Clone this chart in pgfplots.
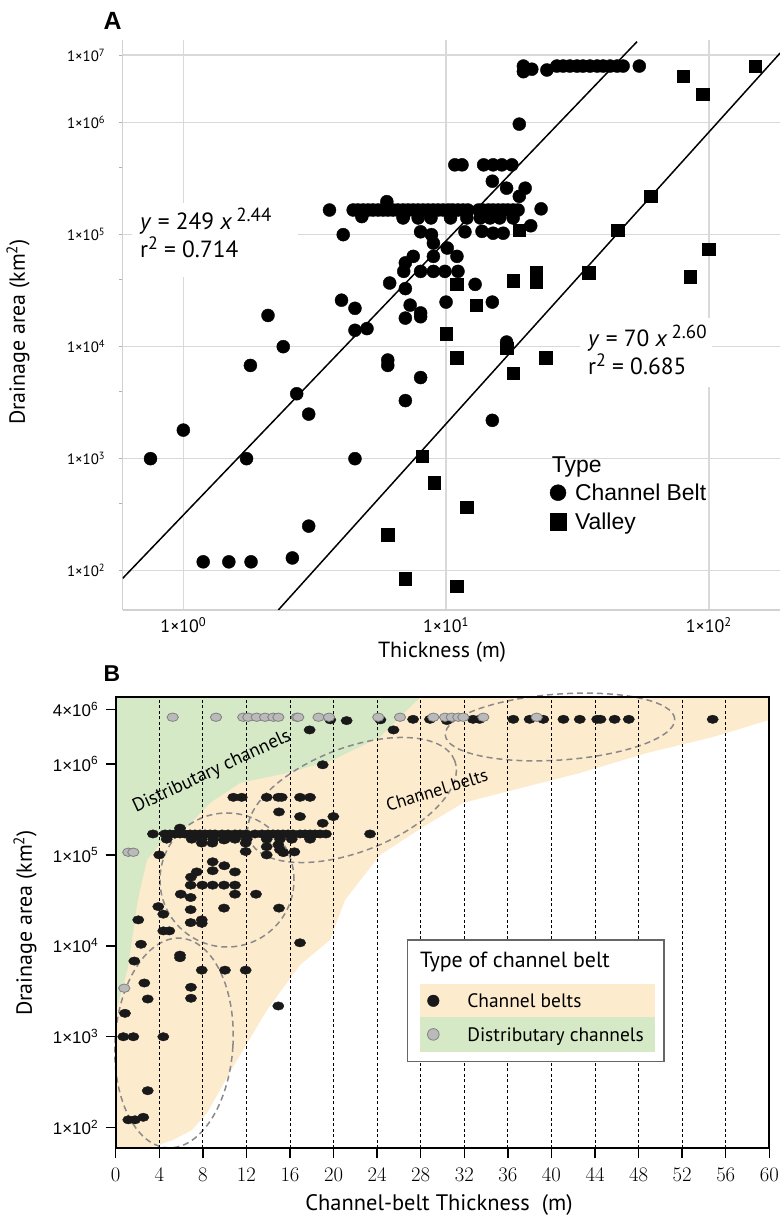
\documentclass[border=0pt]{standalone}
\usepackage{fontspec}
\setmainfont{PT Sans}
\newfontfamily\arial{Liberation Sans}
\newfontfamily\narrow{Liberation Sans}[FakeStretch=0.62]
\usepackage{pgfplots}
\pgfplotsset{compat=1.18}
\definecolor{peach}{RGB}{253,235,206}
\definecolor{lgreen}{RGB}{213,233,198}
\definecolor{ellgray}{RGB}{138,138,138}
\newcommand\fs[1]{\fontsize{#1}{#1}\selectfont}
\newcommand\tp[1]{1×10\textsuperscript{#1}}
\begin{document}
\begin{tikzpicture}[x=1bp,y=1bp]
\useasboundingbox (0,0) rectangle (780,1218);

% ---------------- Panel A ----------------
\begin{axis}[
 at={(122.7bp,608bp)}, anchor=south west, scale only axis,
 width=657.3bp, height=570bp,
 xmode=log, ymode=log,
 xmin=0.5877, xmax=186.7, ymin=44.6, ymax=5.47e6,
 axis x line*=bottom, axis y line*=left,
 axis line style={draw=black!18, line width=1.5bp},
 xtick={1,10,100}, xticklabels={\tp{0},\tp{1},\tp{2}},
 ytick={100,1000,10000,100000,1000000,4000000},
 yticklabels={\tp{2},\tp{3},\tp{4},\tp{5},\tp{6},\tp{7}},
 minor xtick={}, minor ytick={400,4000,40000,400000},
 xmajorgrids, ymajorgrids,
 major grid style={draw=black!15, line width=1.5bp},
 xtick style={draw=none},
 ytick style={draw=black!30, line width=1bp},
 minor tick style={draw=black!30, line width=1bp},
 major tick length=4bp, minor tick length=4bp, tick align=outside,
 xticklabel style={font=\fs{18}},
 yticklabel style={font=\fs{15}, xshift=-10bp},
 legend image code/.code={\draw[#1, mark size=8bp] plot coordinates {(8bp,0bp)}; \path[draw=none,fill=none] (0bp,0bp) -- (25bp,0bp);},
 legend style={at={(0.6501,0.2312)}, anchor=north west, draw=none, fill=none,
   inner sep=0pt, outer sep=0pt, row sep=0pt, column sep=0pt,
   nodes={inner sep=0pt, minimum height=29bp, text height=16.5bp, text depth=0bp, font=\arial\fs{23}}},
 legend cell align=left,
]
\addplot[only marks, mark=*, mark size=6.5bp, black] coordinates {
(0.75,1000) (1.0,1800) (1.74,1000) (1.8,6800) (2.4,1.0e4) (2.1,1.9e4) (2.7,3800) (3.0,2500) (3.0,250) (2.6,130)
(1.19,120) (1.49,120) (1.81,120) (4.5,1000) (6.0,7600) (6.0,6800) (8.0,5300) (7.0,3300)
(4.5,2.2e4) (4.0,2.6e4) (4.5,1.4e4) (5.0,1.45e4) (7.0,1.8e4) (8.0,1.85e4) (8.0,2.0e4) (7.3,2.35e4)
(10,2.5e4) (15,2.5e4) (17,1.1e4) (15,2200) (3.6,1.66e5) (4.06,1.0e5) (6.1,3.7e4) (7.0,3.3e4) (12.9,3.6e4)
(6.9,4.7e4) (8.0,4.7e4) (8.95,4.7e4) (9.9,4.7e4) (11.1,4.7e4) (7.0,5.6e4) (7.5,6.4e4) (8.95,6.4e4) (11.0,6.4e4)
(10.1,7.6e4) (8.0,1.06e5) (8.8,1.0e5) (8.95,8.4e4) (11.8,1.06e5) (13.7,1.07e5) (15.1,1.03e5) (16.5,1.03e5)
(21,1.2e5) (23,1.7e5) (19,2.2e5) (17,2.6e5) (20,2.6e5) (15,3.0e5)
(10.8,4.2e5) (11.5,4.2e5) (13.9,4.2e5) (15.1,4.2e5) (16.3,4.2e5) (17.8,4.2e5) (19,9.7e5)
(19.7,3.2e6) (19.7,2.85e6) (21.2,3.0e6) (24.2,2.95e6) (26.4,3.2e6) (27.9,3.2e6) (29.6,3.2e6) (31.5,3.2e6)
(33.2,3.2e6) (35.3,3.2e6) (37.6,3.2e6) (39.6,3.2e6) (42.1,3.2e6) (44.8,3.2e6) (47.2,3.2e6) (54.4,3.2e6)
(4.43,1.66e5) (4.62,1.66e5) (4.83,1.66e5) (5.05,1.66e5) (5.27,1.66e5) (5.51,1.66e5) (5.76,1.66e5) (6.01,1.66e5)
(6.28,1.66e5) (6.56,1.66e5) (6.86,1.66e5) (7.17,1.66e5) (7.49,1.66e5) (7.83,1.66e5) (8.18,1.66e5) (8.55,1.66e5)
(8.93,1.66e5) (9.33,1.66e5) (9.75,1.66e5) (10.2,1.66e5) (10.6,1.66e5) (11.1,1.66e5) (11.6,1.66e5) (12.1,1.66e5)
(13.3,1.66e5) (13.8,1.66e5) (14.5,1.66e5) (15.1,1.66e5) (15.8,1.66e5) (16.5,1.66e5) (17.2,1.66e5) (18.0,1.66e5) (18.8,1.66e5)
(5.95,1.97e5) (4.78,1.45e5) (6.88,1.45e5)
(6.86,1.41e5) (7.83,1.41e5) (8.76,1.41e5) (10.4,1.41e5) (12.0,1.41e5) (13.5,1.41e5) (14.7,1.41e5) (16.0,1.41e5) (18.0,1.41e5)
};
\addlegendentry{Channel Belt}
\addplot[only marks, mark=square*, mark size=6.3bp, black] coordinates {
(11,3.6e4) (13,2.35e4) (18,3.9e4) (22,4.6e4) (22,3.8e4) (19,1.1e5) (10,1.3e4) (11,8000) (18,5800) (17,9700)
(35,4.6e4) (45,1.1e5) (60,2.2e5) (100,7.4e4) (85,4.2e4) (80,2.6e6) (95,1.8e6) (150,3.2e6) (24,8000)
(8.1,1050) (9,610) (12,370) (11,73) (6,210) (7,85)
};
\addlegendentry{Valley}
\addplot[black, line width=1.5bp, forget plot] coordinates {(0.5877,85.5) (53.3,5.28e6)};
\addplot[black, line width=1.5bp, forget plot] coordinates {(2.299,44.6) (186.7,4.17e6)};
\end{axis}

% ---------------- Panel B background regions ----------------
\fill[peach] (115.7,521.3) -- (769.3,521.3) -- (769.3,498) -- (713,481) -- (647,465) -- (580,445) -- (513,428)
 -- (463,415) -- (423,391) -- (380,363) -- (345,318) -- (330,278) -- (300,253) -- (267,208) -- (233,151)
 -- (207,105) -- (192,88) -- (173,78) -- (153,71) -- (153,69.7) -- (115.7,69.7) -- cycle;
\fill[lgreen] (115.7,521.3) -- (421,521.3) -- (400,501) -- (380,481) -- (333,458) -- (287,445) -- (240,435)
 -- (210,415) -- (187,391) -- (163,378) -- (147,358) -- (140,328) -- (137,313) -- (133,285) -- (128,251)
 -- (122,228) -- (117,211) -- (115.7,208) -- cycle;
\begin{scope}[ellgray, line width=1.5bp, dash pattern=on 6bp off 4bp]
\draw[rotate around={4:(560,491)}] (560,491) ellipse [x radius=115, y radius=33];
\draw[rotate around={21:(352,418)}] (352,418) ellipse [x radius=110, y radius=52];
\draw (227,338) ellipse [x radius=67, y radius=67];
\draw[rotate around={-3.5:(174,175)}] (174,175) ellipse [x radius=59, y radius=105];
\end{scope}

% ---------------- Panel B ----------------
\begin{axis}[
 at={(115.7bp,69.7bp)}, anchor=south west, scale only axis,
 width=653.6bp, height=451.6bp,
 ymode=log, xmin=0, xmax=60, ymin=59.3, ymax=5.5e6,
 xtick={0,4,...,60}, ytick={100,1000,10000,100000,1000000,4000000},
 yticklabels={\tp{2},\tp{3},\tp{4},\tp{5},\tp{6},4×10\textsuperscript{6}},
 minor xtick={}, minor ytick={},
 xmajorgrids, major grid style={draw=black, line width=0.8bp, dash pattern=on 3bp off 2.5bp},
 axis line style={line width=1.8bp},
 tick style={black, line width=1.5bp}, major tick length=10bp, tick align=outside,
 xtick pos=left, ytick pos=left,
 xticklabel style={font=\narrow\fs{22}, yshift=-6bp},
 yticklabel style={font=\arial\fs{17}, xshift=-4bp},
 legend image code/.code={\draw[#1, mark size=5.8bp, mark options={xscale=1}] plot coordinates {(13.3bp,0bp)}; \path[draw=none,fill=none] (0bp,0bp) -- (47.3bp,0bp);},
 legend style={at={(0.4656,0.3638)}, anchor=north west, draw=none, fill=none,
   inner sep=0pt, outer sep=0pt, row sep=0pt, column sep=0pt,
   nodes={inner sep=0pt, minimum height=33.6bp, text height=13.5bp, text depth=0bp, font=\fs{19.5}}},
 legend cell align=left,
]
\addplot[only marks, mark=*, mark size=4.2bp, color=black!90, mark options={xscale=1.35}] coordinates {
(27.3,3.1e6) (28.85,3.1e6) (30.4,3.0e6) (32.8,3.1e6) (33.4,3.1e6) (36.5,3.1e6) (38.0,3.1e6) (39.25,3.1e6)
(41.1,3.1e6) (42.6,3.1e6) (44.2,3.1e6) (44.5,3.1e6) (45.8,3.1e6) (47.1,3.1e6) (54.8,3.1e6)
(19.7,3.06e6) (21.2,3.0e6) (17.8,2.37e6) (19.0,9.8e5) (25.5,2.37e6) (24.3,3.06e6)
(10.8,4.3e5) (11.57,4.3e5) (13.86,4.3e5) (14.93,4.3e5) (15.24,4.3e5) (16.92,4.3e5) (17.84,4.3e5)
(14.99,2.97e5) (16.92,2.64e5) (19.98,2.64e5) (19.0,2.23e5)
(3.42,1.7e5) (4.53,1.7e5) (4.98,1.7e5) (5.44,1.7e5) (5.90,1.7e5) (6.36,1.7e5) (6.82,1.7e5) (7.28,1.7e5)
(7.74,1.7e5) (8.2,1.7e5) (8.66,1.7e5) (9.12,1.7e5) (9.76,1.7e5) (10.31,1.7e5) (10.95,1.7e5) (11.41,1.7e5)
(11.96,1.7e5) (12.79,1.7e5) (13.43,1.7e5) (13.98,1.7e5) (14.44,1.7e5) (14.9,1.7e5) (15.36,1.7e5) (15.82,1.7e5)
(16.28,1.7e5) (16.92,1.7e5) (17.38,1.7e5) (17.84,1.7e5) (18.3,1.7e5) (18.76,1.7e5) (19.3,1.7e5) (23.35,1.7e5) (5.9,1.97e5)
(4.68,1.49e5) (6.98,1.49e5) (7.9,1.49e5) (8.96,1.49e5) (10.03,1.49e5) (10.95,1.49e5) (12.03,1.49e5)
(13.86,1.49e5) (15.08,1.49e5) (16.16,1.49e5) (17.84,1.49e5)
(7.9,1.35e5) (8.87,1.35e5) (9.94,1.46e5) (11.93,1.35e5) (11.93,1.09e5) (13.86,1.23e5) (13.86,1.0e5)
(14.93,1.29e5) (15.08,1.14e5) (15.39,1.06e5) (16.4,1.08e5) (4.0,1.0e5)
(8.9,8.4e4) (9.97,7.6e4) (8.9,6.7e4) (7.44,6.5e4) (6.91,5.7e4) (10.95,6.5e4)
(6.88,4.65e4) (7.95,4.65e4) (8.9,4.65e4) (9.94,4.65e4) (10.95,4.65e4)
(5.97,3.7e4) (6.88,3.4e4) (10.95,3.7e4) (12.88,3.7e4)
(3.91,2.7e4) (4.37,2.23e4) (6.88,2.5e4) (9.94,2.6e4) (14.99,2.6e4)
(2.07,1.93e4) (6.88,1.8e4) (7.9,1.93e4) (7.9,1.77e4) (4.37,1.46e4) (4.92,1.46e4)
(2.32,1.04e4) (16.92,1.08e4) (1.71,6800) (5.9,7900) (5.9,7400)
(7.9,5400) (10.03,5400) (11.93,5400) (2.63,3900) (6.91,3500) (6.91,2650) (2.94,2600)
(14.93,2180) (0.85,1810) (0.70,1000) (1.62,1000) (4.37,1000) (2.94,255) (1.16,122) (1.77,122) (2.53,130)
};
\addlegendentry{Channel belts}
\addplot[only marks, mark=*, mark size=4.2bp, draw=black!50, fill=black!27, line width=0.8bp, mark options={xscale=1.35}] coordinates {
(5.23,3.27e6) (9.21,3.27e6) (11.71,3.27e6) (12.17,3.27e6) (12.94,3.27e6) (13.71,3.27e6) (14.47,3.27e6) (14.93,3.27e6)
(16.62,3.27e6) (16.76,3.27e6) (18.62,3.27e6) (19.58,3.27e6) (24.1,3.27e6) (26.1,3.27e6) (29.16,3.27e6) (30.23,3.27e6)
(30.85,3.27e6) (31.45,3.27e6) (31.91,3.27e6) (33.75,3.27e6) (38.65,3.27e6)
(1.16,1.07e5) (1.62,1.07e5) (0.79,3420)
};
\addlegendentry{Distributary channels}
% legend frame and coloured rows
\fill[white] (rel axis cs:0.4468,0.1918) rectangle (rel axis cs:0.8389,0.4613);
\fill[peach] (rel axis cs:0.4656,0.2901) rectangle (rel axis cs:0.8251,0.3638);
\fill[lgreen] (rel axis cs:0.4656,0.2139) rectangle (rel axis cs:0.8251,0.2901);
\draw[black!60, line width=1.5bp] (rel axis cs:0.4468,0.1918) rectangle (rel axis cs:0.8389,0.4613);
\end{axis}

% ---------------- labels ----------------
\node[anchor=base west, font=\arial\bfseries\fs{25}] at (100,1188) {A};
\node[rotate=90, font=\fs{22}] at (18,886) {Drainage area (km\textsuperscript{2})};
\node[font=\fs{22}] at (442,566) {Thickness (m)};
\fill[white] (132,941) rectangle (298,1015);
\node[anchor=base west, font=\fs{23.5}, inner sep=0pt] at (140,988) {\textit{y} = 249 \textit{x}\,\raisebox{8bp}{\fs{19}2.44}};
\node[anchor=base west, font=\fs{23.5}, inner sep=0pt] at (140,960) {r\raisebox{8bp}{\fs{18}2} = 0.714};
\fill[white] (580,831) rectangle (712,900);
\node[anchor=base west, font=\fs{23.5}, inner sep=0pt] at (588,871) {\textit{y} = 70 \textit{x}\,\raisebox{8bp}{\fs{19}2.60}};
\node[anchor=base west, font=\fs{23.5}, inner sep=0pt] at (588,843) {r\raisebox{8bp}{\fs{18}2} = 0.685};
\node[anchor=base west, font=\arial\fs{23}, inner sep=0pt] at (551.7,745) {Type};

\node[anchor=base west, font=\arial\bfseries\fs{23}] at (100,536.3) {B};
\node[rotate=90, font=\fs{22}] at (25,295) {Drainage area (km\textsuperscript{2})};
\node[anchor=base, font=\fs{22.5}] at (439,7) {Channel-belt Thickness\ \ (m)};
\node[anchor=base west, font=\fs{22}, inner sep=0pt] at (420,250) {Type of channel belt};
\node[rotate=25, font=\fs{19}] at (212,446) {Distributary channels};
\node[rotate=17, font=\fs{18}] at (437,428) {Channel belts};
\end{tikzpicture}
\end{document}
